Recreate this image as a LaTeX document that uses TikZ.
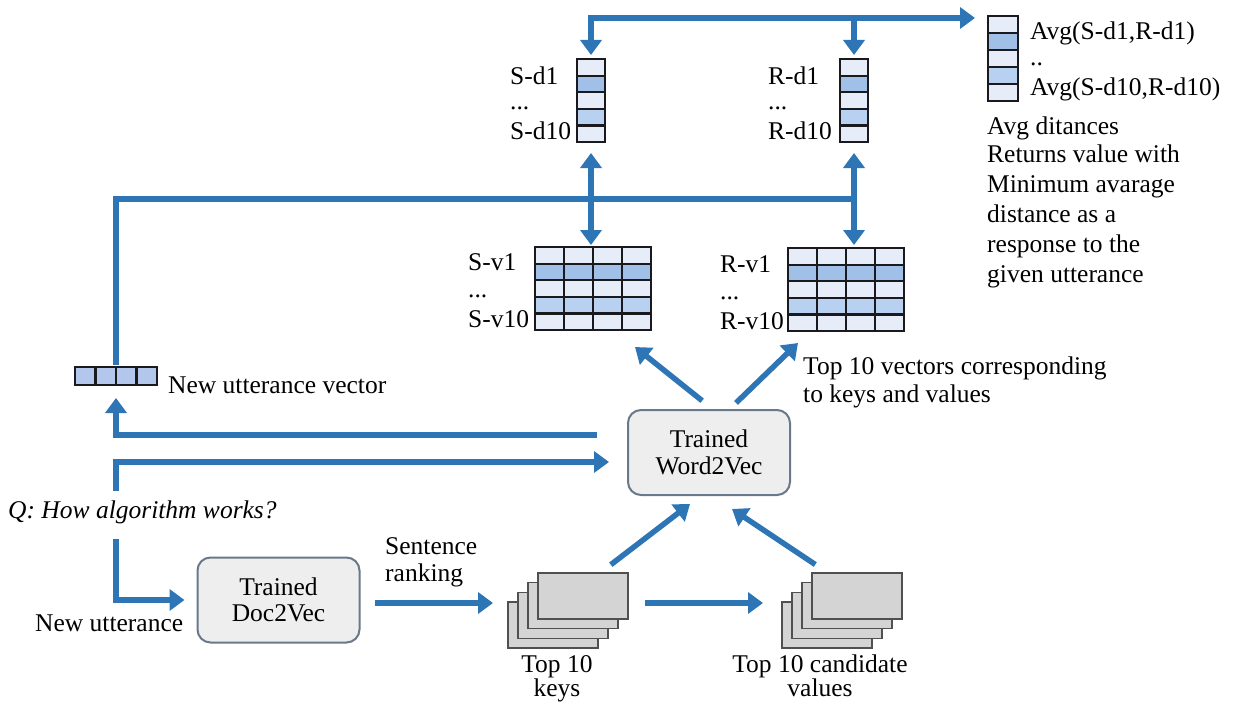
\documentclass[tikz,border=0pt]{standalone}
\usepackage{fontspec}
\setmainfont{Liberation Serif}[ItalicFont={Liberation Serif Italic}]
\usetikzlibrary{arrows.meta,calc}

\definecolor{flow}{RGB}{46,117,182}
\definecolor{cellL}{RGB}{230,236,248}
\definecolor{cellB}{RGB}{160,192,232}
\definecolor{cellM}{RGB}{184,209,240}
\definecolor{cellU}{RGB}{178,199,235}
\definecolor{cellline}{RGB}{25,25,30}
\definecolor{boxfill}{RGB}{238,238,238}
\definecolor{boxline}{RGB}{105,120,138}
\definecolor{cardfill}{RGB}{212,212,212}
\definecolor{cardline}{RGB}{80,80,80}

\newcommand{\lbl}{\rmfamily\fontsize{25.5}{26}\selectfont}

% grid of cells: left, top, columns, cell width, cell height, row colours
\newcommand{\cellgrid}[6]{%
  \foreach \ci [count=\ri from 0] in {#6}{%
    \foreach \kk in {1,...,#3}{%
      \fill[fill=\ci] ({#1+(\kk-1)*#4},{#2+\ri*#5}) rectangle ++(#4,#5);
    }%
  }%
  \foreach \ci [count=\ri from 0] in {#6}{%
    \foreach \kk in {1,...,#3}{%
      \draw[cellstyle] ({#1+(\kk-1)*#4},{#2+\ri*#5}) rectangle ++(#4,#5);
    }%
  }%
}

% stack of four cards: name, left, top
\newcommand{\cardstack}[3]{%
  \foreach \kk in {0,1,2,3}{%
    \filldraw[card] ({#2+10*\kk},{#3+29-9.67*\kk}) rectangle ++(90,46);
  }%
  \node[slot, minimum width=120pt, minimum height=75pt, anchor=north west] (#1) at (#2,#3) {};
}

\tikzset{
  flowline/.style={draw=flow, line width=5.5pt, line cap=rect},
  flowarrow/.style={flowline, -{Triangle[width=21pt,length=15pt]}},
  flowboth/.style={flowline, {Triangle[width=21pt,length=15pt]}-{Triangle[width=21pt,length=15pt]}},
  cellstyle/.style={draw=cellline, line width=2.2pt},
  slot/.style={inner sep=0pt, outer sep=0pt},
  modelbox/.style={draw=boxline, fill=boxfill, line width=2pt, rounded corners=13pt,
    minimum width=162pt, minimum height=85pt, align=center, inner sep=0pt,
    font=\rmfamily\fontsize{25.5}{26.5}\selectfont},
  lbl/.style={font=\lbl, inner sep=0pt},
  card/.style={draw=cardline, fill=cardfill, line width=1.5pt},
}

\begin{document}
\begin{tikzpicture}[x=1pt,y=-1pt]
\useasboundingbox (0,0) rectangle (1233,717);
\fill[white] (0,0) rectangle (1233,717);

% ---- distance vectors (top) ----
\cellgrid{577}{59}{1}{28}{16.6}{cellL,cellB,cellL,cellM,cellL}
\node[slot, minimum width=28pt, minimum height=83pt, anchor=north west] (sd) at (577,59) {};
\cellgrid{840}{59}{1}{28}{16.6}{cellL,cellB,cellL,cellM,cellL}
\node[slot, minimum width=28pt, minimum height=83pt, anchor=north west] (rd) at (840,59) {};
\cellgrid{988}{16}{1}{30}{17}{cellL,cellB,cellL,cellM,cellL}
\node[slot, minimum width=30pt, minimum height=85pt, anchor=north west] (avg) at (988,16) {};

\node[lbl, anchor=west] (sd1) at (510,76) {S-d1};
\node[lbl, anchor=base west] (sdd) at (510,109) {...};
\node[lbl, anchor=west] (sd10) at (510,131) {S-d10};
\node[lbl, anchor=west] (rd1) at (768,76) {R-d1};
\node[lbl, anchor=base west] (rdd) at (768,109) {...};
\node[lbl, anchor=west] (rd10) at (768,131) {R-d10};

\node[lbl, anchor=west] (a1) at (1030,33) {Avg(S-d1,R-d1)};
\node[lbl, anchor=base west] (a2) at (1030,66) {..};
\node[lbl, anchor=west] (a10) at (1030,89) {Avg(S-d10,R-d10)};
\node[lbl, anchor=west] (avgt) at (987,128) {Avg ditances};
\node[inner sep=0pt, anchor=north west, align=left, font=\rmfamily\fontsize{25.5}{30}\selectfont] (ret)
  at (987,145) {Returns value with\\Minimum avarage\\distance as a\\response to the\\given utterance};

% ---- vector matrices ----
\cellgrid{535}{247}{4}{29}{16.6}{cellL,cellB,cellL,cellM,cellL}
\node[slot, minimum width=116pt, minimum height=83pt, anchor=north west] (sm) at (535,247) {};
\cellgrid{788}{248}{4}{29}{16.6}{cellL,cellB,cellL,cellM,cellL}
\node[slot, minimum width=116pt, minimum height=83pt, anchor=north west] (rm) at (788,248) {};

\node[lbl, anchor=west] (sv1) at (468,262) {S-v1};
\node[lbl, anchor=base west] (svd) at (468,297) {...};
\node[lbl, anchor=west] (sv10) at (468,319) {S-v10};
\node[lbl, anchor=west] (rv1) at (720,264) {R-v1};
\node[lbl, anchor=base west] (rvd) at (720,299) {...};
\node[lbl, anchor=west] (rv10) at (720,321) {R-v10};

% ---- new utterance vector ----
\cellgrid{75}{367}{4}{20.5}{18}{cellU}
\node[slot, minimum width=82pt, minimum height=18pt, anchor=north west] (nuv) at (75,367) {};
\node[lbl, anchor=west] (nuvt) at (168,385) {New utterance vector};

% ---- models ----
\node[modelbox] (w2v) at (709,452.5) {Trained\\Word2Vec};
\node[modelbox] (d2v) at (278.5,600) {Trained\\Doc2Vec};

\node[inner sep=0pt, anchor=north west, align=left, font=\rmfamily\fontsize{25.5}{28}\selectfont] (topv)
  at (803,357) {Top 10 vectors corresponding\\to keys and values};
\node[inner sep=0pt, anchor=north west, align=left, font=\rmfamily\fontsize{25.5}{27}\selectfont] (rank)
  at (385,537) {Sentence\\ranking};

\node[lbl, anchor=west, font=\lbl\itshape] (q) at (8,512) {Q: How algorithm works?};
\node[lbl, anchor=west] (nu) at (35,623) {New utterance};

% ---- card stacks ----
\cardstack{keys}{508}{573}
\cardstack{vals}{782}{573}
\node[inner sep=0pt, anchor=north, align=center, font=\rmfamily\fontsize{25.5}{24}\selectfont] (keyst)
  at (557,655) {Top 10\\keys};
\node[inner sep=0pt, anchor=north, align=center, font=\rmfamily\fontsize{25.5}{24}\selectfont] (valst)
  at (820,655) {Top 10 candidate\\values};

% ---- connectors ----
\coordinate (topL) at (591,18);
\coordinate (topR) at (854,18);
\draw[flowarrow] (topL) -- ($(avg.west |- topL)+(-13,0)$);
\draw[flowarrow] (topL) -- ($(sd.north)+(0,-4)$);
\draw[flowarrow] (topR) -- ($(rd.north)+(0,-4)$);

\coordinate (midR) at (854,199);
\draw[flowline] ($(nuv.north)+(0,-5)$) |- (midR);
\draw[flowboth] ($(sd.south)+(0,11)$) -- ($(sm.north -| sd.south)+(0,-2)$);
\draw[flowboth] ($(rd.south)+(0,11)$) -- ($(rm.north -| rd.south)+(0,-3)$);

\draw[flowarrow] ($(w2v.north)+(-9,-10)$) -- ($(sm.south east)+(-16,17)$);
\draw[flowarrow] ($(w2v.north)+(29,-8)$) -- ($(rm.south west)+(10,12)$);

\draw[flowarrow] ($(w2v.west)+(-33,-17.5)$) -| ($(nuv.south)+(0,13)$);
\coordinate (qUp) at (116,488);
\draw[flowarrow] (qUp) |- ($(w2v.west)+(-18,9.5)$);
\coordinate (qDn) at (116,542);
\draw[flowarrow] (qDn) |- ($(d2v.west)+(-12,0)$);

\draw[flowarrow] ($(d2v.east)+(17,3)$) -- ($(keys.west)+(-15,-7.5)$);
\draw[flowarrow] ($(keys.east)+(20,-7.5)$) -- ($(vals.west)+(-19,-7.5)$);
\draw[flowarrow] ($(keys.north east)+(-15,-10)$) -- ($(w2v.south)+(-19,8)$);
\draw[flowarrow] ($(vals.north west)+(31,-10)$) -- ($(w2v.south)+(23,13)$);
\end{tikzpicture}
\end{document}
